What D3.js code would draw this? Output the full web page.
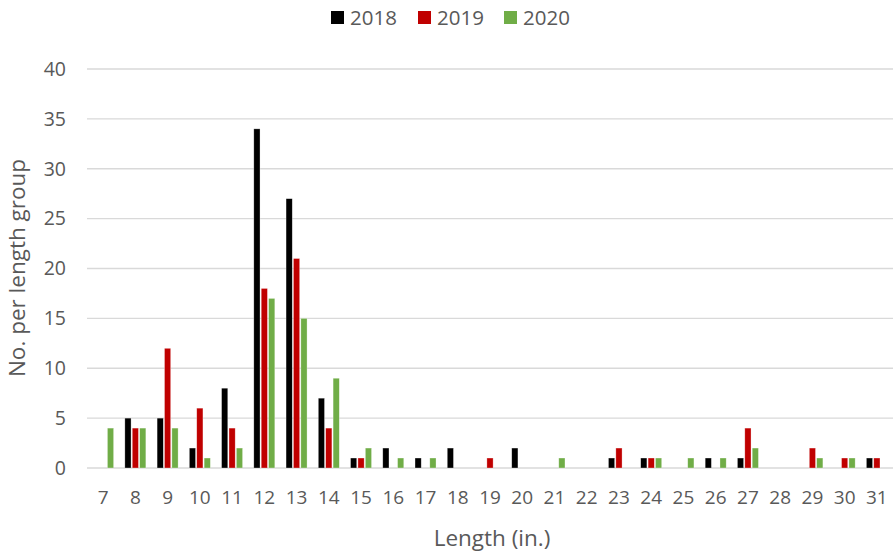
<!DOCTYPE html>
<meta charset="utf-8">
<style>
body { margin: 0; background: #fff; }
text { font-family: "Open Sans", sans-serif; fill: #595959; }
.grid line { stroke: #d9d9d9; stroke-width: 1.3px; }
</style>
<body>
<svg width="895" height="552"></svg>
<script src="https://d3js.org/d3.v7.min.js"></script>
<script>

var lengths = [7, 8, 9, 10, 11, 12, 13, 14, 15, 16, 17, 18, 19, 20, 21, 22, 23, 24, 25, 26, 27, 28, 29, 30, 31];
var years = ["2018", "2019", "2020"];
var v2018 = [0, 5, 5, 2, 8, 34, 27, 7, 1, 2, 1, 2, 0, 2, 0, 0, 1, 1, 0, 1, 1, 0, 0, 0, 1];
var v2019 = [0, 4, 12, 6, 4, 18, 21, 4, 1, 0, 0, 0, 1, 0, 0, 0, 2, 1, 0, 0, 4, 0, 2, 1, 1];
var v2020 = [4, 4, 4, 1, 2, 17, 15, 9, 2, 1, 1, 0, 0, 0, 1, 0, 0, 1, 1, 1, 2, 0, 1, 1, 0];
var yTicks = [0, 5, 10, 15, 20, 25, 30, 35, 40];
var colors = ["#000000", "#c00000", "#70ad47"];

var series = [v2018, v2019, v2020];

var plotLeft = 87, plotRight = 893, plotTop = 69, plotBottom = 468;

var svg = d3.select("svg");

var x = d3.scaleBand().domain(lengths).range([plotLeft, plotRight]).paddingInner(0).paddingOuter(0);
var y = d3.scaleLinear().domain([0, 40]).range([plotBottom, plotTop]);

// gridlines
svg.append("g").attr("class", "grid")
  .selectAll("line").data(yTicks).enter().append("line")
  .attr("x1", plotLeft).attr("x2", plotRight)
  .attr("y1", function(d) { return y(d); })
  .attr("y2", function(d) { return y(d); });

// y tick labels
svg.append("g").selectAll("text").data(yTicks).enter().append("text")
  .attr("x", 66).attr("y", function(d) { return y(d); })
  .attr("dy", "0.35em")
  .attr("text-anchor", "end")
  .style("font-size", "19.5px")
  .text(function(d) { return d; });

// x tick labels
svg.append("g").selectAll("text").data(lengths).enter().append("text")
  .attr("x", function(d) { return x(d) + x.bandwidth() / 2; })
  .attr("y", 504)
  .attr("text-anchor", "middle")
  .style("font-size", "19px")
  .text(function(d) { return d; });

// bars
var barW = 6.2, gap = 1.2;
var sub = d3.scaleBand().domain(years).range([-(3 * barW + 2 * gap) / 2, (3 * barW + 2 * gap) / 2]).paddingInner(gap / (barW + gap));

series.forEach(function(vals, i) {
  svg.append("g").selectAll("rect")
    .data(vals.map(function(v, j) { return { len: lengths[j], v: v }; }).filter(function(d) { return d.v > 0; }))
    .enter().append("rect")
    .attr("x", function(d) { return x(d.len) + x.bandwidth() / 2 + sub(years[i]); })
    .attr("width", sub.bandwidth())
    .attr("y", function(d) { return y(d.v); })
    .attr("height", function(d) { return plotBottom - y(d.v); })
    .attr("fill", colors[i])
    .attr("stroke", "#fff")
    .attr("stroke-opacity", 0.5)
    .attr("stroke-width", 0.6);
});

// axis titles
svg.append("text")
  .attr("x", 492).attr("y", 546)
  .attr("text-anchor", "middle")
  .style("font-size", "22.5px")
  .text("Length (in.)");

svg.append("text")
  .attr("transform", "translate(25," + 268 + ") rotate(-90)")
  .attr("text-anchor", "middle")
  .style("font-size", "22.5px")
  .text("No. per length group");

// legend
var legendX = [331, 418, 504];
var legend = svg.append("g").selectAll("g").data(years).enter().append("g")
  .attr("transform", function(d, i) { return "translate(" + legendX[i] + ",11)"; });
legend.append("rect").attr("width", 13).attr("height", 13)
  .attr("fill", function(d, i) { return colors[i]; });
legend.append("text").attr("x", 19).attr("y", 6.5).attr("dy", "0.35em")
  .style("font-size", "20.5px")
  .text(function(d) { return d; });

</script>
</body>
